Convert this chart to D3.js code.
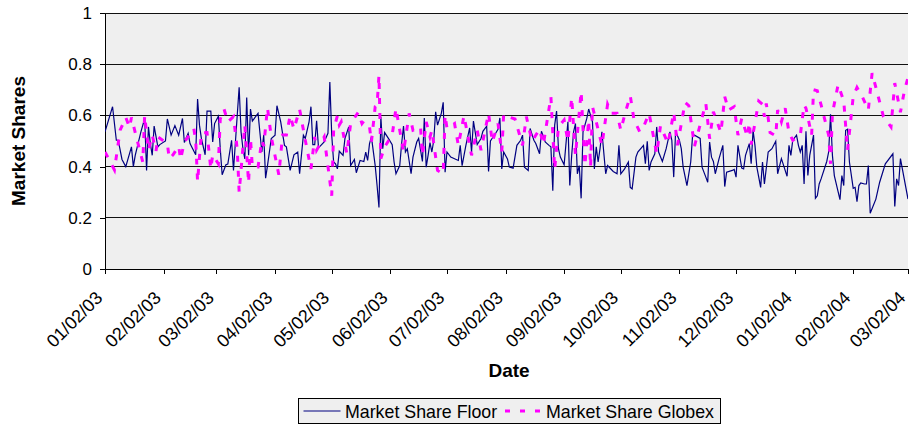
<!DOCTYPE html>
<html>
<head>
<meta charset="utf-8">
<script src="https://cdn.jsdelivr.net/npm/d3@7"></script>
<style>
body { margin: 0; background: #fff; }
text { font-family: Arial, "Liberation Sans", sans-serif; fill: #000; }
</style>
</head>
<body>
<svg id="chart" width="909" height="428"></svg>
<script>
// month ticks on the date axis
const tickLabels = ["01/02/03", "02/02/03", "03/02/03", "04/02/03", "05/02/03", "06/02/03",
  "07/02/03", "08/02/03", "09/02/03", "10/02/03", "11/02/03", "12/02/03",
  "01/02/04", "02/02/04", "03/02/04"];
const yTicks = [0, 0.2, 0.4, 0.6, 0.8, 1];
const seriesNames = ["Market Share Floor", "Market Share Globex"];

// [days after 01/02/03, share]
const floorShare = [[0,.536],[4,.634],[6,.503],[7,.503],[9,.428],[11,.40],[14,.477],[15,.40],[16,.444],[19,.536],[21,.588],[22,.385],[23,.555],[24,.49],[25,.444],[26,.558],[28,.477],[29,.486],[32,.50],[33,.586],[35,.523],[37,.56],[39,.523],[41,.588],[42,.494],[44,.53],[45,.49],[48,.446],[49,.664],[50,.562],[51,.51],[53,.446],[54,.617],[56,.617],[57,.496],[58,.568],[60,.597],[61,.47],[62,.368],[64,.407],[65,.41],[67,.503],[68,.385],[71,.71],
  [72,.536],[73,.47],[74,.43],[75,.67],[76,.444],[77,.625],[78,.578],[81,.608],[83,.457],[84,.523],[85,.355],[86,.404],[88,.51],[90,.523],[91,.638],[93,.575],[95,.483],[96,.477],[98,.385],[100,.446],[102,.457],[103,.372],[105,.523],[106,.51],[108,.575],[109,.634],[110,.486],[111,.486],[112,.579],[113,.473],[116,.496],[118,.53],[119,.73],[120,.523],[121,.418],[122,.411],[123,.391],[124,.46],[126,.444],[127,.51],[129,.555],[130,.404],[132,.428],[133,.376],[135,.424],[137,.42],[138,.457],[139,.424],[140,.49],
  [141,.516],[143,.404],[144,.326],[145,.24],[146,.595],[147,.47],[148,.533],[150,.51],[152,.486],[153,.418],[154,.372],[156,.404],[157,.49],[158,.558],[159,.457],[160,.47],[162,.372],[163,.437],[165,.496],[166,.51],[168,.42],[169,.59],[170,.398],[171,.444],[172,.494],[173,.457],[174,.503],[175,.614],[176,.562],[178,.608],[179,.651],[180,.378],[181,.457],[183,.437],[187,.424],[188,.483],[189,.404],[191,.483],[193,.551],[194,.457],[195,.578],[197,.486],[199,.51],[200,.538],[202,.558],[203,.381],[204,.5],[207,.533],[208,.546],[209,.59],[210,.391],[211,.457],[213,.43],[214,.398],
  [216,.394],[218,.483],[220,.503],[221,.523],[222,.398],[224,.385],[225,.549],[227,.503],[228,.49],[230,.45],[231,.538],[233,.496],[235,.483],[236,.477],[237,.306],[238,.562],[239,.617],[240,.47],[241,.437],[243,.407],[245,.575],[246,.326],[247,.444],[248,.536],[249,.568],[250,.372],[251,.404],[252,.276],[253,.536],[255,.588],[256,.625],[258,.575],[259,.391],[260,.477],[261,.418],[262,.47],[263,.536],[265,.372],[266,.404],[269,.381],[271,.372],[272,.483],[273,.372],[275,.391],[277,.418],[278,.319],[279,.313],[281,.437],[282,.457],[285,.483],[286,.411],
  [287,.499],[288,.385],[289,.418],[291,.45],[292,.555],[293,.457],[295,.42],[297,.47],[299,.536],[300,.503],[301,.359],[302,.538],[304,.503],[305,.47],[306,.398],[308,.326],[310,.418],[311,.523],[312,.523],[315,.51],[316,.398],[318,.359],[319,.339],[320,.496],[321,.437],[322,.42],[323,.372],[325,.431],[327,.483],[328,.322],[329,.378],[332,.385],[333,.389],[334,.359],[335,.483],[337,.394],[338,.391],[339,.444],[341,.49],[342,.411],[343,.542],[344,.483],[345,.398],[346,.359],[347,.319],[348,.418],[349,.332],[351,.457],[353,.47],[355,.499],[356,.372],[358,.431],
  [361,.362],[362,.483],[363,.444],[364,.503],[366,.523],[367,.483],[368,.457],[369,.483],[370,.332],[371,.538],[372,.365],[373,.444],[375,.523],[376,.276],[377,.286],[378,.332],[379,.352],[382,.42],[383,.457],[384,.604],[385,.444],[386,.365],[389,.271],[390,.365],[391,.326],[392,.542],[393,.546],[394,.418],[396,.315],[397,.319],[398,.263],[399,.326],[400,.336],[402,.332],[403,.332],[404,.404],[405,.218],[408,.273],[410,.339],[413,.411],[417,.45],[418,.244],[419,.352],[420,.326],[421,.431],[423,.352],[425,.273]];

const globexShare = [[0,.457],[5,.387],[8,.542],[11,.592],[13,.553],[14,.592],[16,.533],[20,.418],[21,.60],[23,.464],[25,.523],[27,.46],[28,.516],[33,.49],[34,.431],[36,.446],[39,.48],[40,.428],[42,.496],[47,.549],[48,.503],[49,.341],[51,.532],[54,.533],[56,.391],[57,.446],[60,.411],[61,.586],[63,.625],[65,.575],[68,.595],[70,.467],[71,.30],
  [74,.562],[76,.336],[77,.51],[78,.398],[81,.398],[83,.503],[84,.48],[86,.63],[88,.516],[92,.368],[94,.523],[96,.523],[98,.60],[100,.546],[103,.624],[106,.503],[109,.391],[111,.516],[112,.464],[116,.516],[120,.286],[121,.542],[123,.599],[124,.562],[125,.575],[128,.45],[130,.568],[134,.612],[136,.568],[137,.578],[140,.555],[141,.496],[143,.634],
  [144,.64],[145,.756],[146,.431],[148,.477],[152,.523],[154,.628],[158,.457],[161,.608],[163,.542],[167,.555],[168,.444],[170,.575],[172,.516],[173,.542],[176,.385],[179,.372],[180,.601],[181,.549],[185,.568],[187,.483],[190,.599],[194,.444],[197,.542],[199,.464],[203,.608],[205,.496],[208,.568],[210,.457],[211,.604],[213,.595],
  [217,.586],[221,.483],[223,.595],[226,.499],[230,.546],[232,.486],[236,.673],[238,.389],[240,.555],[243,.582],[245,.499],[247,.67],[249,.444],[252,.693],[254,.404],[256,.582],[257,.398],[258,.634],[260,.575],[263,.483],[266,.643],[268,.608],[271,.608],[273,.542],[275,.601],[278,.677],[280,.582],[283,.536],[285,.555],
  [288,.608],[292,.45],[294,.559],[298,.49],[301,.612],[303,.483],[307,.651],[309,.638],[312,.48],[318,.647],[320,.509],[322,.614],[326,.533],[328,.673],[330,.621],[333,.634],[335,.523],[337,.588],[340,.516],[341,.572],[342,.486],[346,.656],[348,.643],[349,.595],[350,.647],[352,.533],[355,.52],[356,.621],
  [358,.575],[360,.628],[362,.533],[364,.503],[368,.523],[370,.641],[371,.628],[374,.523],[375,.70],[377,.696],[379,.641],[383,.523],[384,.411],[385,.608],[388,.72],[391,.656],[393,.464],[396,.673],[398,.709],[401,.67],[404,.621],[406,.765],[408,.709],[412,.595],[416,.555],[418,.726],[421,.612],[423,.693],[425,.748]];

var svg = d3.select("#chart"),
    margin = {top: 13, right: 1, bottom: 159, left: 105},
    width = 909 - margin.left - margin.right,
    height = 428 - margin.top - margin.bottom;

var parseDate = d3.utcParse("%m/%d/%y");
var tickDates = tickLabels.map(parseDate);
var start = tickDates[0];
var day = (n) => d3.utcDay.offset(start, n);

var x = d3.scaleUtc().domain([start, tickDates[tickDates.length - 1]]).range([0, width]);
var y = d3.scaleLinear().domain([0, 1]).range([height, 0]);

var g = svg.append("g")
    .attr("transform", "translate(" + margin.left + "," + margin.top + ")");

g.append("rect")
    .attr("width", width)
    .attr("height", height)
    .attr("fill", "#efefef");

g.selectAll(".grid")
    .data(yTicks.filter((d) => d > 0))
    .enter().append("line")
    .attr("class", "grid")
    .attr("x1", 0).attr("x2", width)
    .attr("y1", (d) => y(d)).attr("y2", (d) => y(d))
    .attr("stroke", "#111")
    .attr("shape-rendering", "crispEdges");

var yAxis = g.append("g")
    .call(d3.axisLeft(y).tickValues(yTicks).tickSize(5).tickSizeOuter(0).tickPadding(8)
      .tickFormat((d) => String(d)));
yAxis.selectAll("text").style("font-size", "17px");

var xAxis = g.append("g")
    .attr("transform", "translate(0," + height + ")")
    .call(d3.axisBottom(x).tickValues(tickDates).tickSize(5).tickSizeOuter(0)
      .tickFormat(d3.utcFormat("%m/%d/%y")));
xAxis.selectAll("text")
    .attr("x", null).attr("y", null).attr("dy", null)
    .attr("text-anchor", "end")
    .attr("transform", "translate(-2,30) rotate(-45)")
    .style("font-size", "18px");

svg.selectAll(".domain, .tick line")
    .attr("stroke", "#000")
    .attr("shape-rendering", "crispEdges");

g.append("clipPath").attr("id", "plot-clip")
  .append("rect").attr("width", width).attr("height", height);

var line = d3.line()
    .x((d) => x(day(d[0])))
    .y((d) => y(d[1]));

g.append("path")
    .datum(floorShare)
    .attr("clip-path", "url(#plot-clip)")
    .attr("fill", "none")
    .attr("stroke", "#000080")
    .attr("stroke-width", 1.2)
    .attr("d", line);

g.append("path")
    .datum(globexShare)
    .attr("clip-path", "url(#plot-clip)")
    .attr("fill", "none")
    .attr("stroke", "#ff00ff")
    .attr("stroke-width", 3)
    .attr("stroke-dasharray", "6,9")
    .attr("d", line);

// axis titles
svg.append("text")
    .attr("transform", "translate(25," + (margin.top + height / 2) + ") rotate(-90)")
    .attr("text-anchor", "middle")
    .style("font-size", "19px")
    .style("font-weight", "bold")
    .text("Market Shares");

svg.append("text")
    .attr("x", 509)
    .attr("y", 377)
    .attr("text-anchor", "middle")
    .style("font-size", "19px")
    .style("font-weight", "bold")
    .text("Date");

// legend
var legend = svg.append("g").attr("transform", "translate(298.5,398.5)");
legend.append("rect")
    .attr("width", 422).attr("height", 25)
    .attr("fill", "#efefef").attr("stroke", "#000");
legend.append("line")
    .attr("x1", 5).attr("x2", 42).attr("y1", 12.5).attr("y2", 12.5)
    .attr("stroke", "#000080").attr("stroke-width", 1.2);
legend.append("text")
    .attr("x", 46.5).attr("y", 19)
    .style("font-size", "17.8px")
    .text(seriesNames[0]);
legend.append("line")
    .attr("x1", 206.5).attr("x2", 241.5).attr("y1", 12.5).attr("y2", 12.5)
    .attr("stroke", "#ff00ff").attr("stroke-width", 3)
    .attr("stroke-dasharray", "5,10");
legend.append("text")
    .attr("x", 247.5).attr("y", 19)
    .style("font-size", "17.8px")
    .text(seriesNames[1]);
</script>
</body>
</html>
